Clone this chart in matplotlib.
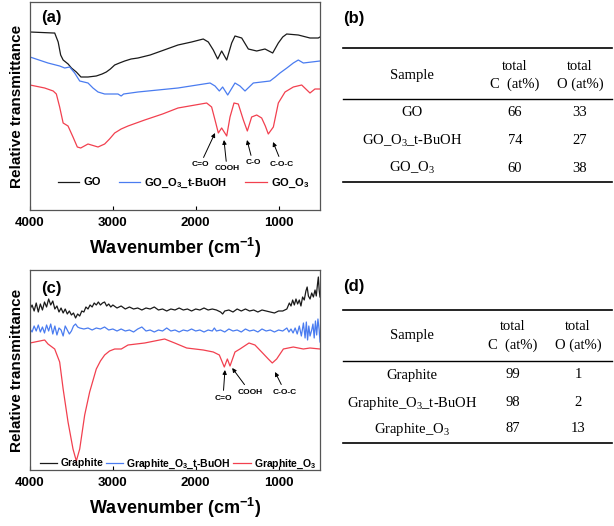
import matplotlib
matplotlib.use('Agg')
import matplotlib.pyplot as plt

plt.rcParams['font.family'] = ['Liberation Sans', 'DejaVu Sans']
plt.rcParams['mathtext.default'] = 'regular'

# ---- panel (a): FTIR of GO samples (arbitrary transmittance units)
go_wn = [4000, 3720, 3702, 3660, 3630, 3600, 3540, 3500, 3441, 3385, 3300, 3200, 3130, 3079, 3030,
         2978, 2920, 2857, 2780, 2697, 2550, 2415, 2214, 2050, 1909, 1848, 1788, 1735, 1687, 1626,
         1566, 1526, 1445, 1365, 1264, 1164, 1071, 1003, 950, 902, 762, 621, 521, 500]
go_t = [178, 177, 177, 168, 155, 150, 146, 142, 138, 133, 133, 134, 136, 138, 141,
        145, 147, 149, 151, 152, 155, 159, 165, 168, 171, 168, 160, 151, 159, 150,
        167, 174, 172, 161, 159, 161, 157, 167, 173, 176, 175, 172, 172, 173]

go_tb_wn = [4000, 3783, 3642, 3581, 3521, 3461, 3400, 3300, 3240, 3179, 3099, 2938, 2900, 2870, 2697,
            2214, 1827, 1767, 1715, 1675, 1614, 1526, 1466, 1405, 1305, 1103, 1040, 983, 900, 822,
            762, 701, 600, 500]
go_tb_t = [153, 147, 144, 142, 143, 137, 129, 127, 122, 118, 116, 116, 114, 116, 118,
           122, 127, 124, 119, 123, 115, 127, 124, 119, 127, 129, 133, 137, 142, 147,
           150, 147, 148, 149]

go_o3_wn = [4000, 3823, 3720, 3682, 3642, 3600, 3541, 3481, 3429, 3388, 3300, 3179, 3099, 3040, 2978,
            2900, 2817, 2616, 2400, 2214, 1868, 1808, 1767, 1727, 1687, 1626, 1586, 1538, 1486, 1425,
            1377, 1325, 1264, 1204, 1160, 1124, 1063, 1003, 922, 822, 721, 621, 561, 500]
go_o3_t = [125, 122, 119, 116, 103, 87, 84, 73, 63, 62, 66, 63, 66, 71, 77,
           81, 84, 90, 96, 102, 107, 103, 90, 77, 82, 74, 93, 107, 106, 90,
           79, 93, 95, 92, 84, 76, 83, 107, 118, 123, 125, 117, 121, 121]

# ---- panel (c): FTIR of graphite samples
gr_wn = [4000, 3975, 3950, 3925, 3900, 3875, 3850, 3825, 3800, 3775, 3750, 3725, 3700, 3675, 3650,
         3625, 3600, 3575, 3550, 3525, 3500, 3475, 3450, 3425, 3400, 3375, 3350, 3325, 3300, 3275,
         3250, 3225, 3200, 3175, 3150, 3125, 3100, 3075, 3050, 3025, 3000, 2950, 2900, 2850, 2800,
         2750, 2700, 2650, 2600, 2550, 2500, 2450, 2400, 2350, 2300, 2250, 2200, 2150, 2100, 2050,
         2000, 1950, 1900, 1850, 1800, 1750, 1700, 1675, 1650, 1600, 1550, 1500, 1450, 1400, 1350,
         1300, 1250, 1200, 1150, 1100, 1050, 1000, 950, 900, 870, 850, 830, 810, 790, 770,
         750, 730, 710, 690, 670, 655, 640, 620, 600, 580, 560, 545, 530, 520, 510, 500]
gr_t = [161, 165, 159, 167, 158, 166, 160, 168, 163, 171, 165, 169, 161, 164, 158,
        162, 157, 161, 156, 159, 155, 157, 152, 156, 154, 159, 158, 163, 161, 165,
        163, 167, 165, 168, 165, 167, 168, 164, 166, 163, 165, 162, 164, 161, 163,
        161, 162, 160, 162, 161, 163, 160, 161, 159, 161, 160, 162, 160, 161, 159,
        161, 160, 162, 160, 161, 160, 158, 156, 159, 160, 158, 161, 159, 161, 159,
        160, 158, 160, 159, 158, 157, 159, 159, 161, 167, 164, 170, 165, 171, 166,
        170, 164, 173, 170, 179, 183, 174, 171, 177, 173, 180, 174, 186, 193, 180, 173]

gr_tb_wn = [4000, 3975, 3950, 3925, 3900, 3875, 3850, 3825, 3800, 3775, 3750, 3725, 3700, 3675, 3650,
            3625, 3600, 3575, 3550, 3525, 3500, 3475, 3450, 3425, 3400, 3350, 3300, 3250, 3200, 3150,
            3100, 3050, 3000, 2950, 2900, 2850, 2800, 2750, 2700, 2650, 2600, 2550, 2500, 2450, 2400,
            2350, 2300, 2250, 2200, 2150, 2100, 2050, 2000, 1950, 1900, 1850, 1800, 1775, 1750, 1700,
            1650, 1600, 1550, 1500, 1450, 1400, 1350, 1300, 1250, 1200, 1150, 1100, 1050, 1000, 950,
            900, 875, 850, 825, 800, 775, 750, 725, 700, 680, 665, 650, 635, 620, 600,
            585, 570, 555, 540, 525, 510, 500]
gr_tb_t = [141, 138, 144, 139, 145, 138, 143, 137, 145, 139, 146, 136, 144, 135, 142,
           140, 134, 144, 140, 136, 139, 144, 146, 143, 142, 141, 142, 140, 142, 141,
           143, 140, 141, 139, 141, 139, 140, 138, 141, 143, 139, 140, 138, 140, 139,
           142, 139, 140, 138, 140, 139, 141, 139, 140, 138, 140, 139, 142, 139, 140,
           138, 141, 139, 140, 138, 141, 139, 140, 138, 141, 139, 140, 138, 140, 139,
           142, 138, 141, 137, 142, 136, 144, 134, 147, 132, 148, 130, 144, 134, 140,
           146, 132, 149, 135, 151, 140, 128]

gr_o3_wn = [4000, 3823, 3783, 3702, 3642, 3600, 3541, 3481, 3441, 3400, 3340, 3280, 3200, 3150, 3099,
            3040, 2978, 2898, 2817, 2616, 2375, 2254, 2109, 1909, 1788, 1715, 1655, 1618, 1586, 1526,
            1466, 1357, 1285, 1204, 1124, 1076, 1023, 942, 822, 701, 621, 500]
gr_o3_t = [127, 130, 126, 121, 108, 81, 48, 21, 9, 21, 55, 78, 101, 109, 115,
           119, 121, 121, 125, 127, 131, 127, 122, 120, 118, 115, 103, 111, 104, 118,
           121, 127, 125, 118, 111, 107, 111, 121, 123, 121, 122, 121]

# ---- tables (b) and (d)
go_samples = ['GO', 'GO_O$_3$_t-BuOH', 'GO_O$_3$']
go_carbon = [66, 74, 60]
go_oxygen = [33, 27, 38]

gr_samples = ['Graphite', 'Graphite_O$_3$_t-BuOH', 'Graphite_O$_3$']
gr_carbon = [99, 98, 87]
gr_oxygen = [1, 2, 13]

BLACK = '#1a1a1a'
BLUE = '#4a7cf0'
RED = '#f2404f'


def style_spectrum_axes(ax, ytop, panel, label_y):
    ax.set_xlim(4000, 500)
    ax.set_ylim(0, ytop)
    ax.set_xticks([4000, 3000, 2000, 1000])
    ax.set_yticks([])
    ax.tick_params(axis='x', direction='in', length=3, width=0.8, pad=5, labelsize=9.5)
    for lab in ax.get_xticklabels():
        lab.set_fontweight('bold')
    for sp in ax.spines.values():
        sp.set_color('#555555')
        sp.set_linewidth(0.9)
    ax.set_xlabel('Wavenumber (cm$^{-1}$)', fontsize=13, fontweight='bold', labelpad=5)
    ax.set_ylabel('Relative transmittance', fontsize=11, fontweight='bold', labelpad=4)
    ax.text(0.04, label_y, panel, transform=ax.transAxes, fontsize=12, fontweight='bold',
            va='center', ha='left')


def mark(ax, text, xy, xytext):
    ax.annotate(text, xy=xy, xytext=xytext, ha='center', va='center', fontsize=6,
                fontweight='bold',
                arrowprops=dict(arrowstyle='-|>', color='black', lw=0.7, mutation_scale=6,
                                shrinkA=1, shrinkB=0))


def draw_table(ax, top, mid, bottom, rows_y, head_y, samples, carbon, oxygen, cols):
    x0, x1 = 343, 612
    for y, lw in ((top, 1.2), (mid, 1.0), (bottom, 1.2)):
        ax.plot([x0, x1], [y, y], color='black', lw=lw)
    serif = ['Liberation Serif', 'DejaVu Serif']
    fs = 10.5
    ax.text(cols[0], head_y, 'Sample', ha='center', va='center', family=serif, fontsize=fs)
    ax.text(cols[1], head_y - 9, 'total', ha='center', va='center', family=serif, fontsize=fs)
    ax.text(cols[1], head_y + 9, 'C  (at%)', ha='center', va='center', family=serif, fontsize=fs)
    ax.text(cols[2], head_y - 9, 'total', ha='center', va='center', family=serif, fontsize=fs)
    ax.text(cols[2], head_y + 9, 'O (at%)', ha='center', va='center', family=serif, fontsize=fs)
    for y, s, c, o in zip(rows_y, samples, carbon, oxygen):
        ax.text(cols[0], y, s, ha='center', va='center', family=serif, fontsize=fs)
        ax.text(cols[1], y, str(c), ha='center', va='center', family=serif, fontsize=fs)
        ax.text(cols[2], y, str(o), ha='center', va='center', family=serif, fontsize=fs)


def main():
    fig = plt.figure(figsize=(6.14, 5.26), dpi=100)

    # panel (a)
    ax_a = fig.add_axes([30 / 614, 1 - 210 / 526, 290 / 614, 208 / 526])
    ax_a.plot(go_wn, go_t, color=BLACK, lw=0.9, label='GO')
    ax_a.plot(go_tb_wn, go_tb_t, color=BLUE, lw=0.9, label='GO_O$_3$_t-BuOH')
    ax_a.plot(go_o3_wn, go_o3_t, color=RED, lw=0.9, label='GO_O$_3$')
    style_spectrum_axes(ax_a, 208, '(a)', 0.925)
    mark(ax_a, 'C=O', (1767, 77), (1948, 45))
    mark(ax_a, 'COOH', (1659, 70), (1622, 41))
    mark(ax_a, 'C-O', (1381, 70), (1309, 47))
    mark(ax_a, 'C-O-C', (1067, 68), (959, 46))
    ax_a.legend(loc='center', bbox_to_anchor=(0.53, 0.13), ncol=3, frameon=False,
                handlelength=1.9, handletextpad=0.4, columnspacing=1.6,
                prop={'weight': 'bold', 'size': 8})

    # panel (c)
    ax_c = fig.add_axes([30 / 614, 1 - 470 / 526, 290 / 614, 200 / 526])
    ax_c.plot(gr_wn, gr_t, color=BLACK, lw=0.9, label='Graphite')
    ax_c.plot(gr_tb_wn, gr_tb_t, color=BLUE, lw=0.9, label='Graphite_O$_3$_t-BuOH')
    ax_c.plot(gr_o3_wn, gr_o3_t, color=RED, lw=0.9, label='Graphite_O$_3$')
    style_spectrum_axes(ax_c, 200, '(c)', 0.91)
    mark(ax_c, 'C=O', (1647, 100), (1671, 72))
    mark(ax_c, 'COOH', (1560, 102), (1345, 78))
    mark(ax_c, 'C-O-C', (1043, 98), (922, 78))
    ax_c.legend(loc='center', bbox_to_anchor=(0.51, 0.03), ncol=3, frameon=False,
                handlelength=1.7, handletextpad=0.3, columnspacing=0.2,
                prop={'weight': 'bold', 'size': 7.5})

    # tables drawn on an overlay in pixel coordinates
    ov = fig.add_axes([0, 0, 1, 1])
    ov.set_xlim(0, 614)
    ov.set_ylim(526, 0)
    ov.axis('off')
    ov.text(343, 18, '(b)', fontsize=12, fontweight='bold', va='center', ha='left')
    draw_table(ov, 48, 99, 182, [113, 141, 168], 75, go_samples, go_carbon, go_oxygen,
               (412, 515, 580))
    ov.text(343, 287, '(d)', fontsize=12, fontweight='bold', va='center', ha='left')
    draw_table(ov, 310, 361, 443, [375, 403, 429], 336, gr_samples, gr_carbon, gr_oxygen,
               (412, 513, 578))

    fig.savefig('out.png', dpi=100)


if __name__ == '__main__':
    main()
